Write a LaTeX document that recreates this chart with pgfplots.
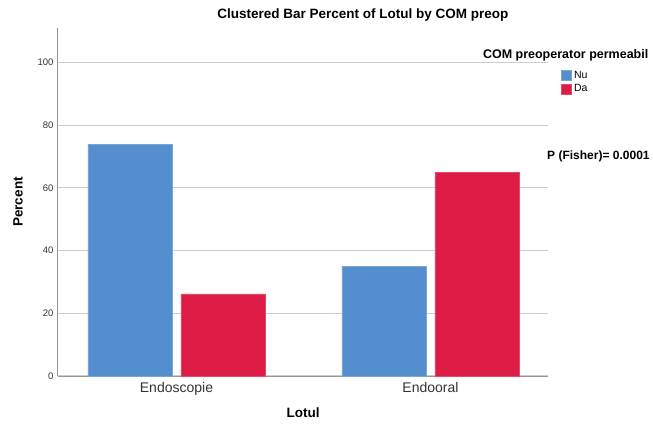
\documentclass[border=0pt]{standalone}
\usepackage{pgfplots}
\pgfplotsset{compat=1.18}
\usepackage{fontspec}
\setmainfont{Liberation Sans}
\definecolor{spblue}{RGB}{84,142,206}
\definecolor{spred}{RGB}{220,28,68}
\definecolor{gridgray}{RGB}{205,205,205}
\definecolor{axgray}{RGB}{150,150,150}
\begin{document}
\begin{tikzpicture}
\path[use as bounding box] (0pt,0pt) rectangle (653pt,-423pt);
\begin{axis}[
  at={(58pt,-376pt)}, anchor=south west,
  scale only axis, width=490pt, height=348pt,
  xmin=-0.4665, xmax=1.4626, ymin=0, ymax=111,
  clip=false,
  axis lines*=left,
  axis line style={draw=axgray, line width=1pt},
  ytick={0,20,40,60,80,100},
  xtick={0,1}, xticklabels={Endoscopie,Endooral},
  major tick length=0pt,
  ymajorgrids, grid style={draw=gridgray, line width=1.2pt},
  yticklabel style={font=\fontsize{9.5}{11}\selectfont, text=black!80, xshift=-1pt},
  xticklabel style={font=\fontsize{14}{16}\selectfont, text=black!80, yshift=-3pt},
  /pgf/number format/assume math mode=true,
  title={Clustered Bar Percent of Lotul by COM preop},
  every axis title/.style={at={(axis description cs:0.622,1.037)}, anchor=center, font=\bfseries\fontsize{13.5}{15}\selectfont},
  xlabel={Lotul}, ylabel={Percent},
  every axis x label/.style={at={(axis description cs:0.5,0)}, yshift=-37pt, anchor=center, font=\bfseries\fontsize{13.5}{15}\selectfont},
  every axis y label/.style={at={(axis description cs:0,0.5)}, xshift=-40pt, rotate=90, anchor=center, font=\bfseries\fontsize{13.5}{15}\selectfont},
  legend style={at={(axis description cs:1.0265,0.879)}, anchor=north west, draw=none, fill=none,
    font=\fontsize{10.5}{12}\selectfont, row sep=2.5pt, column sep=3pt, inner sep=0pt,
    nodes={inner xsep=0pt, inner ysep=1pt}},
  legend cell align=left,
  legend image code/.code={\fill[#1] (0pt,-5pt) rectangle (9.5pt,5pt);},
]
\addplot[ybar, bar width=0.331, bar shift=-0.183, fill=spblue, draw=spblue!80!white] coordinates {(0,73.8) (1,35.0)};
\addlegendentry{Nu}
\addplot[ybar, bar width=0.331, bar shift=0.183, fill=spred, draw=spred!80!white] coordinates {(0,26.2) (1,65.0)};
\addlegendentry{Da}
\node[anchor=west, inner sep=0pt, font=\bfseries\fontsize{12.5}{14}\selectfont] at (axis description cs:0.867,0.922) {COM preoperator permeabil};
\node[anchor=west, inner sep=0pt, font=\bfseries\fontsize{12}{14}\selectfont] at (axis description cs:0.998,0.63) {P (Fisher)= 0.0001};
\end{axis}
\end{tikzpicture}
\end{document}
